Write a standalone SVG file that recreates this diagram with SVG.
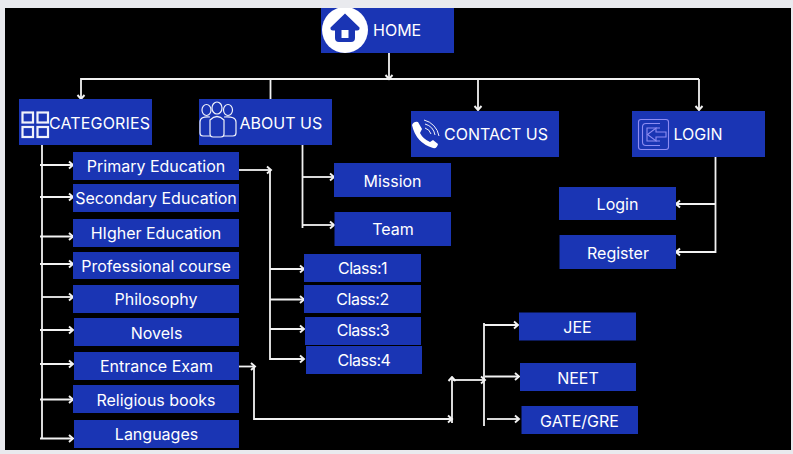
<svg xmlns="http://www.w3.org/2000/svg" width="793" height="454" viewBox="0 0 793 454">
<style>
.n{fill:#1a35b4}
text{font-family:Inter,"Liberation Sans",sans-serif;font-size:16px;fill:#fff;text-anchor:middle}
.h{text-anchor:start}
.k{letter-spacing:-.5px}
.c{fill:none;stroke:#f2f2f2;stroke-width:1.8}
.a{marker-end:url(#ah)}
.i{fill:none;stroke:#f0f2fb;stroke-width:1.2}
</style>
<defs>
<marker id="ah" markerUnits="userSpaceOnUse" markerWidth="8" markerHeight="10" refX="6.500" refY="5" orient="auto"><path d="M2.500 1.500L6.500 5L2.500 8.500" fill="none" stroke="#f2f2f2" stroke-width="1.900"/></marker>
<clipPath id="hc"><rect x="316" y="8" width="60" height="46"/></clipPath>
</defs>
<rect width="793" height="454" fill="#e9eaee"/>
<rect x="5" y="8" width="786" height="442" fill="#000"/>
<g id="connectors" class="c">
<path class="a" d="M389 53V79"/>
<path class="a" d="M699 79H81V99"/>
<path d="M270.500 79V99"/>
<path class="a" d="M478 79V110"/>
<path class="a" d="M699 79V110"/>
<path d="M42 145V439"/>
<path class="a" d="M40 165H73"/><path class="a" d="M40 197H73"/><path class="a" d="M40 236.500H73"/><path class="a" d="M40 264H73"/><path class="a" d="M42 297H73"/><path class="a" d="M40 330H73"/><path class="a" d="M40 364H73"/><path class="a" d="M40 399.500H73"/><path class="a" d="M40 438.500H73"/>
<path class="a" d="M239 170H271"/>
<path d="M270 170V360"/>
<path class="a" d="M270 269H304"/><path class="a" d="M270 299.500H304"/><path class="a" d="M270 329H304"/><path class="a" d="M270 359H304"/>
<path d="M302.500 145V228"/>
<path class="a" d="M302 177H334"/><path class="a" d="M302 225H334"/>
<path d="M715.500 157V252H676"/>
<path class="a" d="M715 204H676"/><path class="a" d="M715 252H676"/>
<path class="a" d="M239 366.500H255"/>
<path class="a" d="M254 366V419H452"/>
<path class="a" d="M452 423V377"/>
<path class="a" d="M453 380H485"/>
<path d="M484 323V426"/>
<path class="a" d="M484 325H518"/><path class="a" d="M485 376.500H519"/><path class="a" d="M487 419H519"/>
</g>
<g id="home"><rect class="n" x="321" y="8" width="133" height="45"/>
<g clip-path="url(#hc)"><circle cx="345" cy="30" r="23" fill="#fff"/></g>
<path class="n" d="M345 13.500L330.500 27.500Q330 30.500 333 30.500H335V38Q335 42 339 42H351Q355 42 355 38V30.500H357Q360 30.500 359.500 27.500ZM341.500 30H348.500V38H341.500Z" fill-rule="evenodd"/>
<text class="h" x="373" y="36">HOME</text></g>
<g id="categories"><rect class="n" x="19" y="99" width="133" height="46"/>
<g class="i" style="stroke-width:2.200"><rect x="22.500" y="112.500" width="10.500" height="10"/><rect x="37.500" y="112.500" width="10.500" height="10"/><rect x="22.500" y="127" width="10.500" height="10"/><rect x="37.500" y="127" width="10.500" height="10"/></g>
<text class="h" x="49" y="129" textLength="101">CATEGORIES</text></g>
<g id="about"><rect class="n" x="199" y="99" width="133" height="46"/>
<g class="i"><ellipse cx="206.500" cy="110" rx="4.500" ry="5.500"/><ellipse cx="217" cy="108" rx="5" ry="6"/><ellipse cx="228" cy="110" rx="4.500" ry="5.500"/><path d="M210 117Q200 116 200 122V133Q200 136 203 136H210"/><path d="M224 117Q236 116 236 122V133Q236 136 233 136H224"/><path d="M210 120Q217 113 224 120V134Q224 137 221 137H213Q210 137 210 134Z"/></g>
<text class="h" x="239.500" y="129">ABOUT US</text></g>
<g id="contact"><rect class="n" x="411" y="111" width="148" height="46"/>
<path d="M412 125Q414 121 418 122L422 129L420 133Q423 139 430 142L433 140L438 144Q437 149 433 148Q416 143 412 125Z" fill="#fff"/>
<g class="i" style="stroke-width:1"><path d="M425 128A9 9 0 0 1 431 134"/><path d="M425 124A14 14 0 0 1 435 135"/><path d="M424 120A20 20 0 0 1 439 136"/></g>
<text class="h" x="444" y="140" textLength="104">CONTACT US</text></g>
<g id="login"><rect class="n" x="632" y="111" width="133" height="46"/>
<g fill="none" stroke="#8d8cf2" stroke-width="1.100"><rect x="638.500" y="119.500" width="30" height="30" rx="2.500"/><path d="M660 123.500H646Q642.500 123.500 642.500 127V142Q642.500 145.500 646 145.500H660"/><path d="M660 128H647V141H660"/><path d="M666 132H656V128L647.500 134.500L656 141V137H666Z"/></g>
<text class="h" x="673.500" y="140">LOGIN</text></g>
<g id="primary"><rect class="n" x="73" y="152" width="166" height="28"/><text x="156" y="172">Primary Education</text></g>
<g id="secondary"><rect class="n" x="73" y="184" width="166" height="28"/><text x="156" y="204">Secondary Education</text></g>
<g id="higher"><rect class="n" x="73" y="219" width="166" height="28"/><text x="156" y="239">HIgher Education</text></g>
<g id="professional"><rect class="n" x="73" y="252" width="166" height="27"/><text x="156" y="272">Professional course</text></g>
<g id="philosophy"><rect class="n" x="73" y="285" width="166" height="28"/><text x="156" y="305">Philosophy</text></g>
<g id="novels"><rect class="n" x="74" y="318" width="165" height="28"/><text x="156.500" y="339">Novels</text></g>
<g id="entrance"><rect class="n" x="74" y="352" width="165" height="28"/><text x="156.500" y="372">Entrance Exam</text></g>
<g id="religious"><rect class="n" x="73" y="385" width="166" height="28"/><text x="156" y="406">Religious books</text></g>
<g id="languages"><rect class="n" x="74" y="420" width="165" height="28"/><text x="156.500" y="440">Languages</text></g>
<g id="mission"><rect class="n" x="334" y="163" width="117" height="34"/><text x="392.500" y="187">Mission</text></g>
<g id="team"><rect class="n" x="334.500" y="212" width="116.500" height="34"/><text x="393" y="235">Team</text></g>
<g id="login-item"><rect class="n" x="559" y="187" width="117" height="33"/><text x="617.500" y="210">Login</text></g>
<g id="register"><rect class="n" x="559.500" y="235" width="116.500" height="34"/><text x="618" y="259">Register</text></g>
<g id="class1"><rect class="n" x="304" y="254" width="117" height="28"/><text class="k" x="362.500" y="274">Class:1</text></g>
<g id="class2"><rect class="n" x="304" y="285" width="117" height="28"/><text class="k" x="362.500" y="305">Class:2</text></g>
<g id="class3"><rect class="n" x="305" y="317" width="116" height="28"/><text class="k" x="363" y="336">Class:3</text></g>
<g id="class4"><rect class="n" x="306" y="346" width="116" height="28"/><text class="k" x="364" y="366">Class:4</text></g>
<g id="jee"><rect class="n" x="519" y="312.500" width="117" height="28"/><text x="577.500" y="333">JEE</text></g>
<g id="neet"><rect class="n" x="520" y="363" width="116" height="28"/><text x="578" y="384">NEET</text></g>
<g id="gate"><rect class="n" x="521.500" y="406" width="116.500" height="28"/><text x="579.500" y="427">GATE/GRE</text></g>
</svg>
